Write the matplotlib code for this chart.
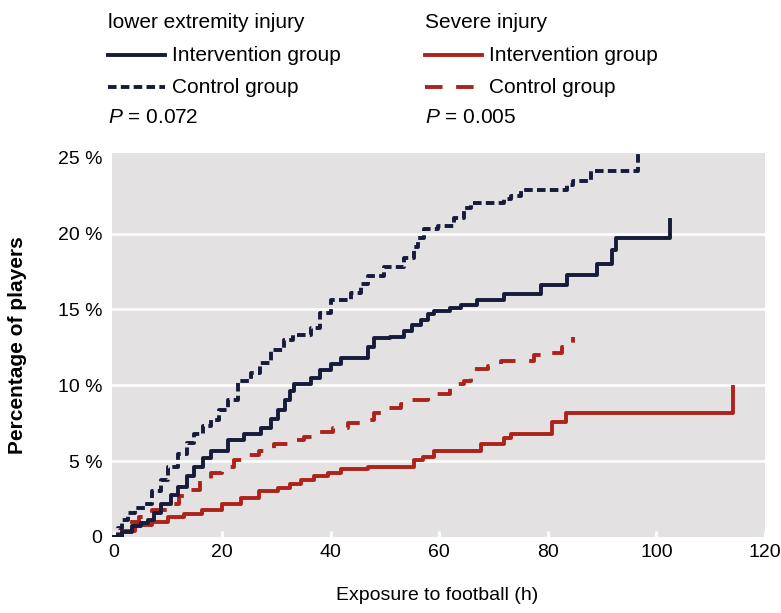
import matplotlib.pyplot as plt
from matplotlib.lines import Line2D

plt.rcParams['font.family'] = ['Liberation Sans', 'DejaVu Sans']
plt.rcParams['mathtext.fontset'] = 'custom'
plt.rcParams['mathtext.rm'] = 'Liberation Sans'
plt.rcParams['mathtext.it'] = 'Liberation Sans:italic'

# lower extremity injury, control group (h, %)
ctrl_low_t = [0, 0.8, 1.5, 2.7, 4, 5.7, 7, 8.8, 10, 11.9, 13.5, 14.9, 16.5, 18, 19.5,
              21.1, 23, 25.4, 27, 29, 31.4, 33, 36.4, 38, 40, 43.8, 45.6, 46.9, 49.8,
              53.5, 55.3, 56, 57.2, 59.7, 62.7, 64.5, 65.8, 71.9, 73.2, 75, 83.6, 84.7,
              87.9, 96.6]
ctrl_low_p = [0, 0.6, 1.1, 1.6, 1.9, 2.2, 3.0, 3.75, 4.6, 5.5, 6.2, 6.8, 7.3, 7.7, 8.4,
              9.0, 10.3, 10.8, 11.5, 12.3, 13.0, 13.3, 13.8, 14.8, 15.6, 16.1, 16.7, 17.2, 17.8,
              18.4, 19.1, 19.7, 20.3, 20.5, 21.0, 21.7, 22.0, 22.3, 22.5, 22.9, 23.2, 23.5,
              24.1, 25.3]

# lower extremity injury, intervention group
int_low_t = [0, 1.5, 3.3, 5, 6.4, 7.5, 8.8, 10.5, 11.9, 13.5, 14.9, 16.5, 18, 21.1, 24.1,
             27.2, 29, 30.3, 31.5, 32.5, 33.3, 36.4, 38, 40, 41.9, 46.9, 48, 51, 53.5, 55,
             56.6, 57.9, 59, 62, 64, 67, 72, 78.7, 83.6, 89.1, 91.9, 92.5, 102.6]
int_low_p = [0, 0.3, 0.7, 0.9, 1.1, 1.6, 2.2, 2.8, 3.3, 4.0, 4.6, 5.2, 5.7, 6.4, 6.8,
             7.2, 7.8, 8.4, 9.0, 9.6, 10.1, 10.5, 11.0, 11.4, 11.8, 12.5, 13.1, 13.2, 13.6, 14.0,
             14.3, 14.7, 14.9, 15.1, 15.3, 15.6, 16.0, 16.6, 17.3, 18.0, 18.9, 19.7, 20.9]

# severe injury, control group
ctrl_sev_t = [0, 1.5, 3, 4.6, 7, 10.1, 12, 13.8, 16, 18, 20, 22.2, 24.5, 26.7, 29.5, 32.2,
              35, 37.7, 40.5, 43.2, 45.5, 48, 50.5, 52.9, 54.8, 57.9, 62, 64.5, 65.8, 69,
              71.3, 77.4, 80.5, 82.7, 84.6]
ctrl_sev_p = [0, 0.7, 1.0, 1.3, 1.8, 2.2, 2.7, 3.1, 3.7, 4.2, 4.6, 5.1, 5.4, 5.7, 6.1, 6.4,
              6.6, 6.9, 7.2, 7.5, 7.7, 8.2, 8.5, 8.8, 9.0, 9.4, 10.1, 10.3, 11.1, 11.3,
              11.6, 12.0, 12.1, 12.5, 13.2]

# severe injury, intervention group
int_sev_t = [0, 1.5, 3.9, 7, 10.1, 13, 16.2, 19.9, 23.5, 26.7, 30.3, 32.5, 34.6, 37, 39.5,
             41.9, 46.9, 55.3, 57, 59, 67.6, 71.9, 73.2, 80.8, 83.3, 114.2]
int_sev_p = [0, 0.4, 0.8, 1.0, 1.3, 1.5, 1.8, 2.2, 2.6, 3.0, 3.2, 3.5, 3.75, 4.0, 4.2,
             4.5, 4.6, 5.1, 5.3, 5.7, 6.1, 6.5, 6.8, 7.6, 8.2, 9.9]

y_ticks = [0, 5, 10, 15, 20, 25]
y_labels = ['0', '5 %', '10 %', '15 %', '20 %', '25 %']
x_ticks = [0, 20, 40, 60, 80, 100, 120]

navy = '#161b3a'
red = '#ad231b'
bg = '#e4e1e3'
fs = 14
lfs = 15

fig = plt.figure(figsize=(7.81, 6.13), dpi=100)
ax = fig.add_axes([0.1434, 0.124, 0.836, 0.626])
ax.set_facecolor(bg)
for s in ax.spines.values():
    s.set_visible(False)

for g in [5, 10, 15, 20]:
    ax.axhline(g, color='white', lw=1.8, zorder=1)

lw = 2.8
ax.step(int_sev_t, int_sev_p, where='post', color=red, lw=lw, zorder=3)
ax.step(ctrl_sev_t, ctrl_sev_p, where='post', color=red, lw=lw, ls=(0, (4.5, 3.5)), zorder=3)
ax.step(int_low_t, int_low_p, where='post', color=navy, lw=lw, zorder=4)
ax.step(ctrl_low_t, ctrl_low_p, where='post', color=navy, lw=lw, ls=(0, (2.2, 1.1)), zorder=4)

ax.set_xlim(-0.3, 120)
ax.set_ylim(0, 25.3)
ax.set_yticks(y_ticks)
ax.set_yticklabels(y_labels)
ax.set_xticks(x_ticks)
ax.tick_params(axis='y', length=0, pad=7, labelsize=fs)
ax.tick_params(axis='x', direction='in', length=4, width=2, color='white', pad=5, labelsize=fs)

fig.text(0.023, 0.437, 'Percentage of players', rotation=90, ha='center', va='center',
         fontsize=15, fontweight='bold')
fig.text(0.56, 0.029, 'Exposure to football (h)', ha='center', va='center', fontsize=fs)

# legend block at the top
def leg_line(x0, x1, y, color, ls):
    fig.add_artist(Line2D([x0, x1], [y, y], transform=fig.transFigure, color=color,
                          lw=lw, ls=ls))

col1 = 0.138
col2 = 0.544
rows = [0.963, 0.910, 0.858, 0.808]
fig.text(col1, rows[0], 'lower extremity injury', va='center', fontsize=lfs)
leg_line(col1, col1 + 0.073, rows[1], navy, '-')
fig.text(col1 + 0.082, rows[1], 'Intervention group', va='center', fontsize=lfs)
leg_line(col1, col1 + 0.073, rows[2], navy, (0, (2.2, 1.1)))
fig.text(col1 + 0.082, rows[2], 'Control group', va='center', fontsize=lfs)
fig.text(col1, rows[3], '$\\it{P}$ = 0.072', va='center', fontsize=lfs)

fig.text(col2, rows[0], 'Severe injury', va='center', fontsize=lfs)
leg_line(col2, col2 + 0.073, rows[1], red, '-')
fig.text(col2 + 0.082, rows[1], 'Intervention group', va='center', fontsize=lfs)
leg_line(col2, col2 + 0.073, rows[2], red, (0, (4.5, 3.5)))
fig.text(col2 + 0.082, rows[2], 'Control group', va='center', fontsize=lfs)
fig.text(col2, rows[3], '$\\it{P}$ = 0.005', va='center', fontsize=lfs)

fig.savefig('out.png', dpi=100)
